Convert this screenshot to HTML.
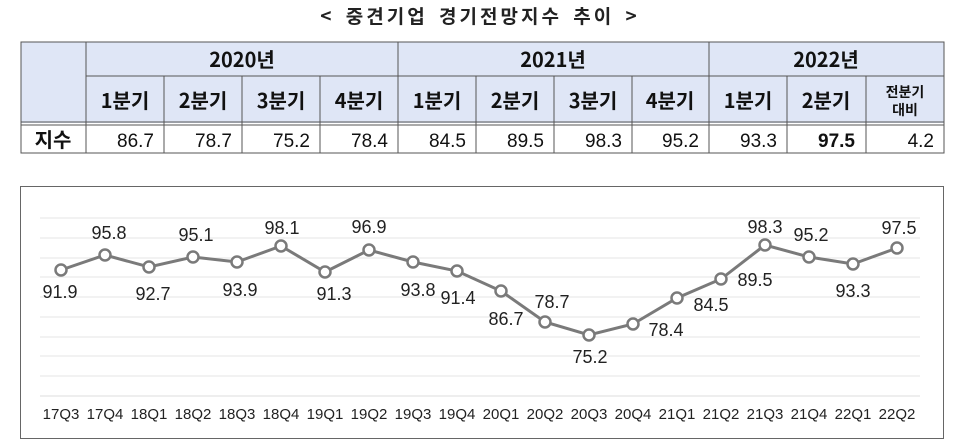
<!DOCTYPE html>
<html><head><meta charset="utf-8"><style>
html,body{margin:0;padding:0;background:#fff;}
svg{display:block;font-family:"Liberation Sans","Noto Sans CJK KR",sans-serif;}
</style></head><body>
<svg width="960" height="445" viewBox="0 0 960 445" xmlns="http://www.w3.org/2000/svg">
<text x="480" y="23" text-anchor="middle" font-size="19" font-weight="bold" fill="#222" font-family="'Noto Sans CJK KR',sans-serif" letter-spacing="3" word-spacing="4">&lt; 중견기업 경기전망지수 추이 &gt;</text>
<rect x="21" y="42" width="923" height="81" fill="#dfe6f6"/>
<g stroke="#555" stroke-width="1" fill="none">
<rect x="21" y="42" width="923" height="111"/>
<line x1="86" y1="76" x2="944" y2="76"/>
<line x1="21" y1="122" x2="944" y2="122"/>
<line x1="21" y1="125" x2="944" y2="125"/>
<line x1="86" y1="42" x2="86" y2="153"/>
<line x1="398" y1="42" x2="398" y2="153"/>
<line x1="709" y1="42" x2="709" y2="153"/>
<line x1="164" y1="76" x2="164" y2="153"/><line x1="242" y1="76" x2="242" y2="153"/><line x1="320" y1="76" x2="320" y2="153"/>
<line x1="476" y1="76" x2="476" y2="153"/><line x1="554" y1="76" x2="554" y2="153"/><line x1="632" y1="76" x2="632" y2="153"/>
<line x1="787" y1="76" x2="787" y2="153"/><line x1="866" y1="76" x2="866" y2="153"/>
</g>
<g font-size="20" font-weight="bold" fill="#111" text-anchor="middle" font-family="'Noto Sans CJK KR',sans-serif">
<text x="242" y="67">2020년</text><text x="553" y="67">2021년</text><text x="826" y="67">2022년</text>
<text x="125" y="108">1분기</text><text x="203" y="108">2분기</text><text x="281" y="108">3분기</text><text x="359" y="108">4분기</text>
<text x="437" y="108">1분기</text><text x="515" y="108">2분기</text><text x="593" y="108">3분기</text><text x="670" y="108">4분기</text>
<text x="748" y="108">1분기</text><text x="826" y="108">2분기</text>
<text x="53" y="147">지수</text>
</g>
<g font-size="14" font-weight="bold" fill="#111" text-anchor="middle" font-family="'Noto Sans CJK KR',sans-serif">
<text x="905" y="97">전분기</text><text x="905" y="115">대비</text>
</g>
<g font-size="19" fill="#111" text-anchor="end">
<text x="154" y="147">86.7</text><text x="232" y="147">78.7</text><text x="310" y="147">75.2</text><text x="388" y="147">78.4</text>
<text x="466" y="147">84.5</text><text x="544" y="147">89.5</text><text x="622" y="147">98.3</text><text x="699" y="147">95.2</text>
<text x="777" y="147">93.3</text><text x="855" y="147" font-weight="bold">97.5</text><text x="934" y="147">4.2</text>
</g>
<rect x="20.5" y="186.5" width="923" height="252" fill="#fff" stroke="#666" stroke-width="1"/>
<g stroke="#e6e6e6" stroke-width="1">
<line x1="40" y1="218" x2="920" y2="218"/><line x1="40" y1="238" x2="920" y2="238"/><line x1="40" y1="258" x2="920" y2="258"/>
<line x1="40" y1="277" x2="920" y2="277"/><line x1="40" y1="297" x2="920" y2="297"/><line x1="40" y1="317" x2="920" y2="317"/>
<line x1="40" y1="337" x2="920" y2="337"/><line x1="40" y1="356" x2="920" y2="356"/><line x1="40" y1="376" x2="920" y2="376"/>
<line x1="40" y1="396" x2="920" y2="396" stroke="#ddd"/>
</g>
<polyline fill="none" stroke="#7a7a7a" stroke-width="3" points="61,270 105,255 149,267 193,257 237,262 281,246 325,272 369,250 413,262 457,271 501,291 545,322 589,335 633,324 677,298 721,279 765,245 809,257 853,264 897,248"/>
<g fill="#fff" stroke="#7a7a7a" stroke-width="2.5">
<circle cx="61" cy="270" r="5.5"/><circle cx="105" cy="255" r="5.5"/><circle cx="149" cy="267" r="5.5"/><circle cx="193" cy="257" r="5.5"/><circle cx="237" cy="262" r="5.5"/><circle cx="281" cy="246" r="5.5"/><circle cx="325" cy="272" r="5.5"/><circle cx="369" cy="250" r="5.5"/><circle cx="413" cy="262" r="5.5"/><circle cx="457" cy="271" r="5.5"/><circle cx="501" cy="291" r="5.5"/><circle cx="545" cy="322" r="5.5"/><circle cx="589" cy="335" r="5.5"/><circle cx="633" cy="324" r="5.5"/><circle cx="677" cy="298" r="5.5"/><circle cx="721" cy="279" r="5.5"/><circle cx="765" cy="245" r="5.5"/><circle cx="809" cy="257" r="5.5"/><circle cx="853" cy="264" r="5.5"/><circle cx="897" cy="248" r="5.5"/>
</g>
<g font-size="18" fill="#222" text-anchor="middle">
<text x="60" y="298">91.9</text><text x="109" y="239">95.8</text><text x="153" y="300">92.7</text><text x="196" y="241">95.1</text>
<text x="240" y="296">93.9</text><text x="282" y="234">98.1</text><text x="334" y="300">91.3</text><text x="369" y="233">96.9</text>
<text x="418" y="296">93.8</text><text x="458" y="304">91.4</text><text x="506" y="325">86.7</text><text x="552" y="308">78.7</text>
<text x="590" y="363">75.2</text><text x="666" y="336">78.4</text><text x="711" y="311">84.5</text><text x="755" y="286">89.5</text>
<text x="765" y="233">98.3</text><text x="811" y="241">95.2</text><text x="853" y="297">93.3</text><text x="899" y="234">97.5</text>
</g>
<g font-size="15" fill="#222" text-anchor="middle">
<text x="61" y="419">17Q3</text><text x="105" y="419">17Q4</text><text x="149" y="419">18Q1</text><text x="193" y="419">18Q2</text><text x="237" y="419">18Q3</text><text x="281" y="419">18Q4</text><text x="325" y="419">19Q1</text><text x="369" y="419">19Q2</text><text x="413" y="419">19Q3</text><text x="457" y="419">19Q4</text><text x="501" y="419">20Q1</text><text x="545" y="419">20Q2</text><text x="589" y="419">20Q3</text><text x="633" y="419">20Q4</text><text x="677" y="419">21Q1</text><text x="721" y="419">21Q2</text><text x="765" y="419">21Q3</text><text x="809" y="419">21Q4</text><text x="853" y="419">22Q1</text><text x="897" y="419">22Q2</text>
</g>
</svg>
</body></html>
